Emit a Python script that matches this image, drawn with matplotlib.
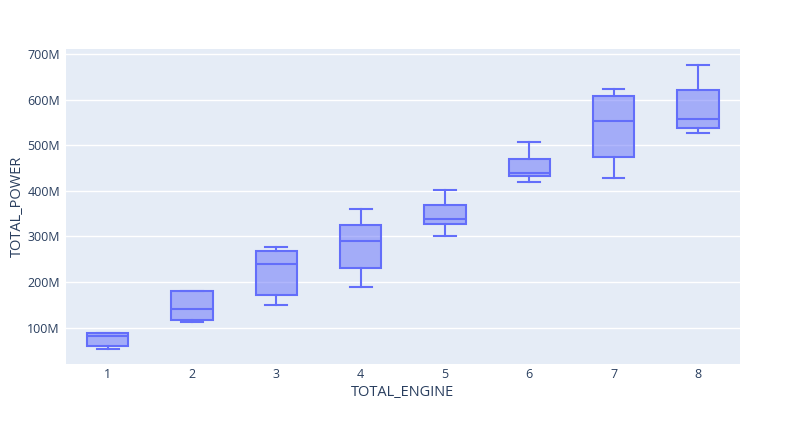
import matplotlib
matplotlib.use("Agg")
import matplotlib.pyplot as plt
from matplotlib.ticker import FuncFormatter

# Data (values in millions)
categories = ["1", "2", "3", "4", "5", "6", "7", "8"]
lower_whisker = [52, 113, 149, 188, 300, 420, 429, 527]
q1 = [60, 116, 171, 230, 328, 432, 473, 537]
median = [81, 140, 239, 289, 338, 439, 554, 558]
q3 = [87, 181, 267, 326, 368, 469, 607, 621]
upper_whisker = [89, 181, 276, 361, 401, 506, 624, 676]
y_ticks = [100, 200, 300, 400, 500, 600, 700]

LINE = "#636EFA"
BG = "#E5ECF6"
TXT = "#2a3f5f"

plt.rcParams['font.family'] = ['Open Sans', 'DejaVu Sans']

fig = plt.figure(figsize=(8.06, 4.30), dpi=100)
ax = fig.add_axes([65.5 / 806, 1 - 364 / 430, (740 - 65.5) / 806, (364 - 49) / 430])
ax.set_facecolor(BG)

stats = []
for i, c in enumerate(categories):
    stats.append(dict(label=c, whislo=lower_whisker[i] * 1e6, q1=q1[i] * 1e6,
                      med=median[i] * 1e6, q3=q3[i] * 1e6, whishi=upper_whisker[i] * 1e6,
                      fliers=[]))

positions = list(range(1, len(categories) + 1))
lw = 1.5
ax.bxp(stats, positions=positions, widths=0.49, patch_artist=True, showfliers=False,
       boxprops=dict(facecolor=(99 / 255, 110 / 255, 250 / 255, 0.5), edgecolor=LINE, linewidth=lw),
       medianprops=dict(color=LINE, linewidth=lw),
       whiskerprops=dict(color=LINE, linewidth=lw),
       capprops=dict(color=LINE, linewidth=lw),
       capwidths=0.26, zorder=3)

ax.set_xlim(0.5, 8.5)
ax.set_ylim(20e6, 711e6)
ax.set_xticks(positions)
ax.set_xticklabels(categories)
ax.set_yticks([v * 1e6 for v in y_ticks])
ax.yaxis.set_major_formatter(FuncFormatter(lambda v, p: f"{int(round(v / 1e6))}M"))

ax.grid(axis='y', color='white', linewidth=1, zorder=0)
ax.set_axisbelow(True)
for s in ax.spines.values():
    s.set_visible(False)
ax.tick_params(axis='both', length=0, labelsize=9, labelcolor=TXT)
ax.tick_params(axis='x', pad=3)
ax.tick_params(axis='y', pad=4)

ax.set_xlabel("TOTAL_ENGINE", fontsize=10.5, color=TXT, va='center')
ax.set_ylabel("TOTAL_POWER", fontsize=10.5, color=TXT, va='center')
ax.xaxis.set_label_coords(0.5, (364 - 393) / 315)
ax.yaxis.set_label_coords((17 - 65.5) / 674.5, 0.5)

fig.savefig("out.png", dpi=100, facecolor="white")
